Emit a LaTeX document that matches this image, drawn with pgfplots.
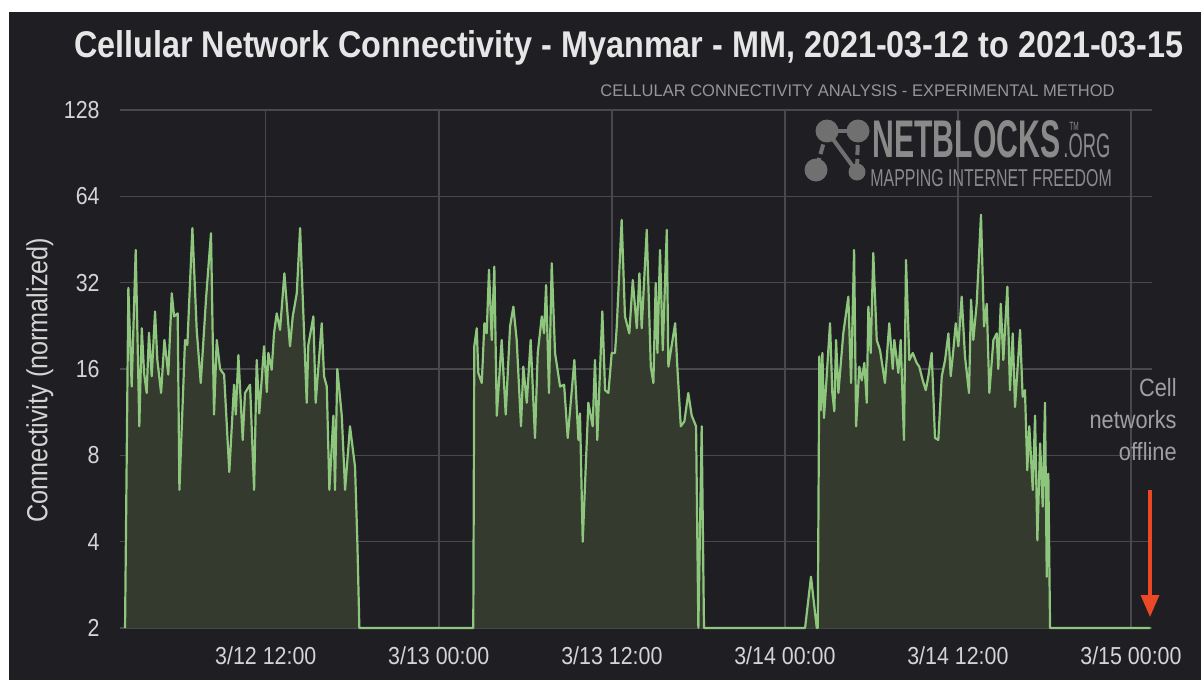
\documentclass[border=0pt]{standalone}
\usepackage{pgfplots}
\pgfplotsset{compat=1.18}
\usepackage{fontspec}
\setmainfont{Liberation Sans}[FakeStretch=0.87]
\usepackage{graphicx}
\usetikzlibrary{arrows.meta}
\definecolor{bgc}{RGB}{31,30,35}
\definecolor{gridc}{RGB}{72,72,77}
\definecolor{linec}{RGB}{141,198,124}
\definecolor{fillc}{RGB}{52,58,45}
\definecolor{titlec}{RGB}{230,230,230}
\definecolor{tickc}{RGB}{212,212,212}
\definecolor{wmc}{RGB}{150,150,150}
\definecolor{annc}{RGB}{160,160,160}
\definecolor{logoc}{RGB}{112,112,112}
\definecolor{logot}{RGB}{138,138,138}
\definecolor{redc}{RGB}{236,72,40}
\pgfplotstableread{
h v
2.24 2
2.47 30.7
2.70 13.9
2.98 41.6
3.23 10.1
3.40 22.2
3.56 15.5
3.74 13.2
3.90 21.4
4.09 15.1
4.32 25.4
4.48 17.2
4.74 13.2
4.97 20.2
5.24 15.3
5.48 29.4
5.64 24.4
5.89 25
6.01 6.06
6.40 20.2
6.56 19.4
6.91 49.6
7.21 21.9
7.49 14.3
7.86 28.3
8.20 47.6
8.41 11.1
8.60 20.2
8.83 16
9.11 15.3
9.47 7.0
9.80 14.1
9.92 11.1
10.10 17.9
10.40 9.05
10.56 13.2
10.91 14.1
11.19 6.06
11.37 17.2
11.55 11.2
11.88 19.2
12.07 13.3
12.18 18.2
12.41 15.9
12.57 21.3
12.76 25
12.99 21.9
13.29 34.5
13.68 19.2
13.87 24.4
14.15 29.4
14.38 49.6
14.84 12.2
14.95 19.4
15.30 24.4
15.46 12.2
15.88 23.1
16.04 15.1
16.23 13.9
16.41 6.06
16.69 11
16.80 6.06
16.96 16
17.27 11
17.50 6.06
17.84 10.1
18.19 7.3
18.35 4
18.49 2
26.39 2
26.46 19.2
26.63 22.2
26.74 15.5
26.98 14.3
27.16 23.1
27.32 21.3
27.48 35.5
27.67 20.2
27.85 36.4
28.02 11
28.36 20.2
28.64 11.1
28.94 22.5
29.17 26.4
29.40 20.2
29.70 10.1
29.86 16.3
30.10 12.2
30.37 20.2
30.67 9.2
30.86 18.2
31.14 24.4
31.30 21.3
31.44 31.4
31.64 13.2
31.83 37.4
32.06 18.2
32.41 13.9
32.69 14.1
32.94 9.2
33.40 17.2
33.68 9.05
33.79 11.2
33.98 4
34.37 12.2
34.67 10.1
34.83 17.2
34.99 9.05
35.34 25.4
35.53 13.5
35.76 13.2
35.99 18.2
36.22 18.2
36.34 22.5
36.68 53
36.91 24.4
37.21 21.3
37.45 32.7
37.73 22.2
37.91 34.5
38.07 22.2
38.42 48.9
38.70 16.3
38.88 14.3
39.04 31.9
39.16 18.2
39.34 41.6
39.53 18.6
39.81 48.9
39.92 16.3
40.39 23.1
40.55 16
40.78 10.1
41.03 10.5
41.30 13.2
41.54 11
41.84 10.1
42.00 2
42.23 10.1
42.39 2
49.40 2
49.81 3.02
50.21 2
50.28 2
50.39 17.7
50.49 11.5
50.60 18.2
50.71 10.8
50.90 15.1
51.13 23.1
51.29 13.2
51.43 11.4
51.55 20.2
51.71 13.2
52.05 21.3
52.40 28.6
52.59 14.3
52.80 41.6
52.94 10.1
53.16 16.3
53.33 14.6
53.51 16.8
53.68 12.2
53.79 26.4
53.95 18.2
54.13 40.6
54.37 20.2
54.60 18.6
54.94 14.3
55.24 23.1
55.48 16
55.59 20.2
55.87 15.5
56.03 20.2
56.26 9.05
56.40 38.4
56.63 17.2
56.87 18.2
57.14 16.8
57.32 16.3
57.56 14.6
57.77 13.5
57.95 15.1
58.18 18.2
58.41 9.2
58.64 9.05
58.88 15.1
59.11 17.2
59.34 21.3
59.50 15.1
59.68 18.6
59.85 23.1
60.03 19.2
60.26 28.6
60.49 17.7
60.77 13.2
60.91 27.9
61.07 20.2
61.30 27
61.60 55.2
61.81 22.5
62.00 27
62.18 13.2
62.46 20.2
62.69 21.3
62.80 16
62.97 27
63.15 17.2
63.43 31
63.61 13.5
63.80 21.3
63.96 11.8
64.31 21.9
64.49 12.8
64.65 13.5
64.81 7.1
64.95 10.1
65.19 6.06
65.35 11
65.51 4.04
65.70 8.8
65.88 5.3
66.04 12.2
66.16 3.02
66.27 6.9
66.39 2
73.35 2
}\conn
\begin{document}
\begin{tikzpicture}
\begin{scope}[x=0.5pt,y=-0.5pt]
\fill[white] (0,0) rectangle (1201,680);
\fill[bgc] (9,12) rectangle (1201,680);
\end{scope}
\begin{axis}[
  at={(60pt,-314pt)}, anchor=south west,
  scale only axis, width=516pt, height=259pt,
  xmin=1.89, xmax=73.46,
  ymode=log, log basis y=2, ymin=2, ymax=128,
  ytick={2,4,8,16,32,64,128},
  yticklabels={2,4,8,16,32,64,128},
  xtick={12,24,36,48,60,72},
  xticklabels={3/12 12:00,3/13 00:00,3/13 12:00,3/14 00:00,3/14 12:00,3/15 00:00},
  axis line style={draw=none},
  major tick length=0pt,
  grid=major,
  grid style={gridc, line width=0.7pt},
  clip=false,
  /pgf/number format/assume math mode=true,
  ticklabel style={font=\fontsize{12.3}{14}\selectfont, text=tickc},
  xticklabel style={anchor=base, yshift=-18pt},
  yticklabel style={anchor=east, inner sep=0pt, xshift=-10pt},
]
\addplot[fill=fillc, draw=linec, line width=1.1pt, line join=round] table[x=h,y=v] {\conn};
\end{axis}
\begin{scope}[x=0.5pt,y=-0.5pt]
\node[anchor=base, text=titlec, font=\fontsize{18.6}{21}\selectfont\bfseries] at (629,57) {Cellular Network Connectivity - Myanmar - MM, 2021-03-12 to 2021-03-15};
\node[anchor=center, rotate=90, text=tickc, font=\fontsize{14.5}{17}\selectfont] at (40,380) {Connectivity (normalized)};
\node[anchor=base east, text=wmc, inner sep=0pt] at (1115,97) {\scalebox{1.13}[1]{\fontsize{8.4}{10}\selectfont CELLULAR CONNECTIVITY ANALYSIS - EXPERIMENTAL METHOD}};
% logo
\draw[logoc, line width=2pt] (827,131) -- (858,131);
\draw[logoc, line width=2pt, dash pattern=on 5pt off 2pt] (827,131) -- (816,170);
\draw[logoc, line width=2pt] (827,131) -- (857,172);
\draw[logoc, line width=2pt, dash pattern=on 5pt off 2pt] (858,131) -- (857,172);
\fill[logoc] (827,131) circle (11.5);
\fill[logoc] (858,131) circle (11.5);
\fill[logoc] (816,170) circle (11.5);
\fill[logoc] (857,172) circle (8.5);
\node[anchor=base west, text=logot, inner sep=0pt] at (872,157) {\scalebox{0.655}[1]{\fontsize{26.5}{30}\selectfont\bfseries NETBLOCKS}};
\node[anchor=base west, text=logot, inner sep=0pt] at (1063,157) {\scalebox{0.62}[1]{\fontsize{17}{20}\selectfont .ORG}};
\node[anchor=base west, text=logot, inner sep=0pt] at (1069,130) {\scalebox{0.62}[1]{\fontsize{6}{7}\selectfont TM}};
\node[anchor=base west, text=logot, inner sep=0pt] at (870,186) {\scalebox{0.75}[1]{\fontsize{12.2}{14}\selectfont MAPPING INTERNET FREEDOM}};
% annotation
\node[anchor=base east, text=annc, font=\fontsize{12.5}{14}\selectfont, inner sep=0pt] at (1177,396) {Cell};
\node[anchor=base east, text=annc, font=\fontsize{12.5}{14}\selectfont, inner sep=0pt] at (1177,428) {networks};
\node[anchor=base east, text=annc, font=\fontsize{12.5}{14}\selectfont, inner sep=0pt] at (1177,460) {offline};
\draw[redc, line width=1.6pt, -{Triangle[width=9pt,length=11pt]}] (1150,490) -- (1150,617);
\end{scope}
\end{tikzpicture}
\end{document}
